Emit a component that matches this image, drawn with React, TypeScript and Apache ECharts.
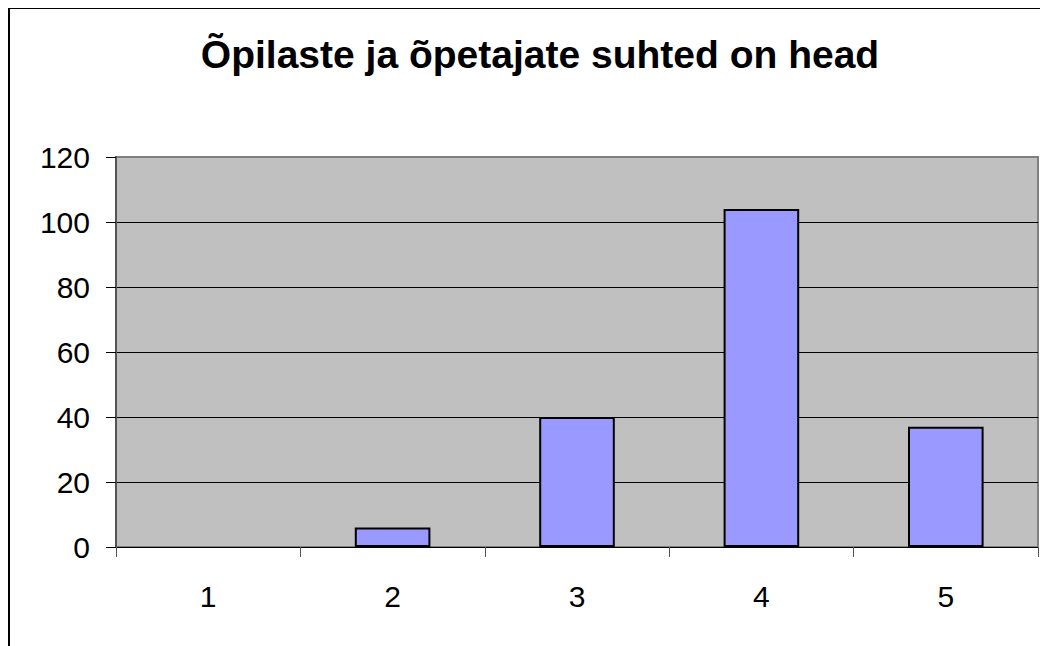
import React, { useEffect, useRef } from "react";
import * as echarts from "echarts";

const titleText = "Õpilaste ja õpetajate suhted on head";
const categories = ["1", "2", "3", "4", "5"];
const values = [0, 6, 40, 104, 37];
const yTicks = { min: 0, max: 120, interval: 20 };

export default function App() {
  const ref = useRef<HTMLDivElement>(null);
  useEffect(() => {
    if (!ref.current) return;
    const chart = echarts.init(ref.current, undefined, { renderer: "svg" });
    const barData = values.map((v) =>
      v === 0 ? { value: v, itemStyle: { borderWidth: 0 } } : { value: v }
    );
    chart.setOption({
      animation: false,
      backgroundColor: "#ffffff",
      textStyle: { fontFamily: "Liberation Sans" },
      title: {
        text: titleText,
        left: 527,
        top: 22,
        textAlign: "center",
        textStyle: { fontSize: 39, fontWeight: "bold", color: "#000", fontFamily: "Liberation Sans" },
      },
      graphic: [
        {
          type: "rect",
          shape: { x: 1, y: 0, width: 1200, height: 800 },
          style: { fill: "none", stroke: "#000", lineWidth: 2 },
          silent: true,
        },
      ],
      grid: {
        left: 108,
        top: 149,
        right: 10,
        bottom: 99,
        show: true,
        backgroundColor: "#C0C0C0",
        borderColor: "#808080",
        borderWidth: 2,
      },
      xAxis: {
        type: "category",
        data: categories,
        boundaryGap: true,
        axisLine: { show: true, lineStyle: { color: "#000", width: 1 } },
        axisTick: { show: true, alignWithLabel: false, length: 10, lineStyle: { color: "#555", width: 1 } },
        axisLabel: { fontSize: 30, color: "#000", margin: 34, fontFamily: "Liberation Sans" },
        splitLine: { show: false },
      },
      yAxis: {
        type: "value",
        min: yTicks.min,
        max: yTicks.max,
        interval: yTicks.interval,
        axisLine: { show: true, lineStyle: { color: "#555", width: 2 } },
        axisTick: { show: true, inside: false, length: 10, lineStyle: { color: "#000", width: 1 } },
        axisLabel: { fontSize: 30, color: "#000", margin: 26, fontFamily: "Liberation Sans" },
        splitLine: { show: true, showMaxLine: false, showMinLine: false, lineStyle: { color: "#000", width: 1 } },
      },
      series: [
        {
          type: "bar",
          data: barData,
          barWidth: "41%",
          itemStyle: { color: "#9999FF", borderColor: "#000", borderWidth: 2 },
        },
      ],
    });
    return () => chart.dispose();
  }, []);
  return <div ref={ref} style={{ width: 1040, height: 638 }} />;
}
